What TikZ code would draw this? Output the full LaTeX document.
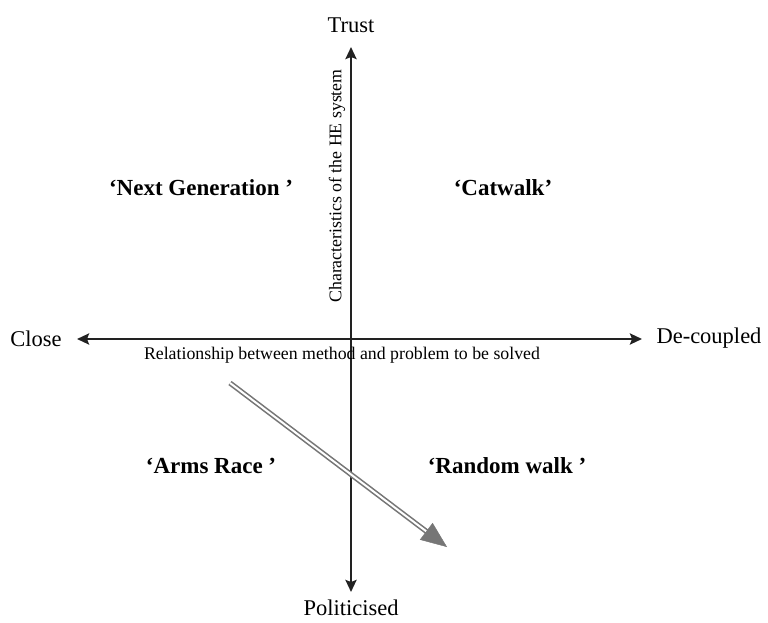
\documentclass[tikz,border=0pt]{standalone}
\usepackage{fontspec}
\setmainfont{Liberation Serif}
\usetikzlibrary{arrows.meta,calc}
\definecolor{axiscol}{HTML}{222222}
\definecolor{arrowgray}{HTML}{767676}
\tikzset{
  axis/.style={draw=axiscol, line width=2.8pt, {Stealth[length=12pt,width=11pt,inset=2pt]}-{Stealth[length=12pt,width=11pt,inset=2pt]}},
  endlabel/.style={font=\fontsize{22.5}{26}\selectfont, inner sep=0pt},
  axislabel/.style={font=\fontsize{17.8}{20}\selectfont, inner sep=0pt},
  quadlabel/.style={font=\fontsize{23}{27}\selectfont\bfseries, inner sep=0pt},
  shaft/.style={draw=arrowgray, line width=1.6pt, double=white, double distance=2pt},
  head/.style={draw=arrowgray, fill=arrowgray, line width=0.4pt, -{Triangle[length=26pt,width=21pt]}}
}
\begin{document}
\begin{tikzpicture}[x=1pt,y=-1pt]
\useasboundingbox (0,0) rectangle (768,623);
% end labels
\node[endlabel] (trust) at (351,25) {Trust};
\node[endlabel] (pol) at (351,608) {Politicised};
\node[endlabel] (close) at (36,339) {Close};
\node[endlabel] (dec) at (709,338) {De-coupled};
% axis end points
\coordinate (vtop) at (351,47);
\coordinate (vbot) at (351,592);
\coordinate (hleft) at (77,339);
\coordinate (hright) at (642,339);
\draw[axis] (hleft) -- (hright);
\draw[axis] (vbot) -- (vtop);
% axis labels
\node[axislabel, rotate=90] (vlab) at (337,186) {Characteristics of the HE system};
\node[axislabel] (hlab) at (342,355) {Relationship between method and problem to be solved};
% quadrant labels
\node[quadlabel] (ng) at (201,188) {‘Next Generation ’};
\node[quadlabel] (cw) at (503,188) {‘Catwalk’};
\node[quadlabel] (ar) at (211,466) {‘Arms Race ’};
\node[quadlabel] (rw) at (507,466) {‘Random walk ’};
% double arrow
\coordinate (s) at (230,383);
\coordinate (t) at (447,547);
\coordinate (h) at ($(t)!26pt!(s)$);
\coordinate (h2) at ($(t)!22pt!(s)$);
\draw[shaft] (s) -- (h2);
\draw[head] (h) -- (t);
\end{tikzpicture}
\end{document}
